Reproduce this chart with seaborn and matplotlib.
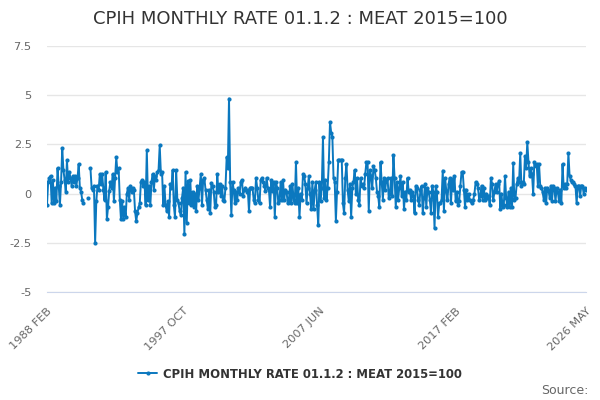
import numpy as np
import pandas as pd
import matplotlib
matplotlib.use("Agg")
import matplotlib.pyplot as plt
from matplotlib.ticker import FuncFormatter
from matplotlib.lines import Line2D
import seaborn as sns

# monthly rate, %, Feb 1988 .. May 2026
nan = np.nan
y1988 = [-0.6, 0.6, 0.8, 0.9, -0.5, 0.7, -0.5, 0.3, -0.4, 1.3, 0.4]
y1989 = [-0.6, 0.6, 2.3, 1.2, 0.7, 0.1, 1.7, 0.6, 1.1, 0.8, 0.4, 0.9]
y1990 = [0.6, 0.9, 0.4, 0.8, 1.5, 0.3, 0.1, -0.3, -0.5, nan, nan, nan]
y1991 = [-0.2, nan, 1.3, 0.3, 0.2, 0.4, -2.5, -0.4, 0.4, 0.2, 1.0, 0.5]
y1992 = [1.0, 0.2, -0.35, 1.1, -1.3, -0.7, 0.15, 0.6, 0.3, 1.0, -0.4, 0.8]
y1993 = [1.85, 1.1, 1.3, -0.3, -1.3, -0.4, -1.3, -0.7, -1.2, 0.0, 0.3, -0.3]
y1994 = [0.4, 0.1, 0.3, 0.2, -0.9, -1.4, -1.0, -0.7, -0.5, 0.6, 0.7, 0.4]
y1995 = [0.6, -0.6, 2.2, -0.3, 0.4, -0.6, 0.6, 1.0, 0.2, 0.9, 0.7, 1.1]
y1996 = [1.2, 2.45, 1.0, 1.1, -0.6, 0.4, -0.6, -0.9, -0.4, -1.2, 0.5, 0.3]
y1997 = [1.2, -0.6, -1.2, 1.2, -0.3, -0.5, -0.9, -1.1, -0.2, 0.3, -2.05, 1.1]
y1998 = [-1.5, 0.65, -0.5, 0.7, -0.6, 0.1, -0.7, 0.0, -0.9, 0.4, -0.35, 0.3]
y1999 = [1.0, -0.6, 0.7, 0.8, 0.2, -0.3, -0.8, 0.2, -1.0, 0.55, 0.4, 0.1]
y2000 = [-0.7, -0.6, 1.0, 0.1, 0.5, -0.1, 0.4, -0.3, -0.4, 0.3, 1.85, 1.3]
y2001 = [4.83, 0.6, -1.1, 0.6, 0.2, -0.5, 0.1, -0.3, 0.3, 0.0, 0.6, 0.7]
y2002 = [-0.1, 0.2, 0.3, 0.1, 0.2, -0.9, 0.3, 0.3, 0.3, -0.3, -0.5, 0.8]
y2003 = [0.3, -0.35, -0.5, 0.7, 0.8, 0.6, 0.4, 0.15, 0.8, 0.3, 0.2, -0.7]
y2004 = [0.7, 0.15, 0.6, -1.2, 0.6, 0.3, -0.5, -0.3, 0.6, -0.35, 0.7, -0.3]
y2005 = [0.2, 0.1, -0.5, -0.3, 0.4, -0.5, 0.5, -0.3, -0.5, 1.6, -0.5, 0.3]
y2006 = [-1.2, 0.0, -0.35, 1.0, 0.9, 0.5, -0.5, 0.3, 0.9, 0.0, -0.8, 0.6]
y2007 = [-0.8, 0.2, 0.6, -0.6, -1.6, 0.6, -0.4, 0.3, 2.86, -0.2, 0.7, -0.3]
y2008 = [0.3, 1.6, 3.64, 3.1, 2.9, 0.8, 0.6, -1.4, 0.1, 1.7, 1.7, 1.7]
y2009 = [1.7, -0.5, -1.0, 0.8, 1.5, 0.2, -0.4, 0.5, -1.2, 0.3, 0.6, 1.2]
y2010 = [0.0, 0.8, -0.3, -0.6, 0.8, 0.4, 0.5, 0.3, 1.0, 1.6, 1.6, -0.9]
y2011 = [1.2, 0.9, 0.3, 1.4, 1.2, 0.8, 0.1, -0.1, -0.7, 1.6, 0.6, -0.3]
y2012 = [0.8, 0.2, 0.7, 0.8, -0.2, 0.0, 0.8, -0.1, 1.94, 0.8, -0.7, 0.6]
y2013 = [-0.3, 0.3, 0.9, -0.1, 0.6, -0.8, 0.1, -0.3, 0.8, 0.1, 0.2, -0.3]
y2014 = [0.1, -0.1, -1.0, 0.4, 0.3, -0.3, -0.6, 0.2, 0.4, -1.0, -0.2, 0.5]
y2015 = [-0.7, 0.3, 0.1, -0.3, -1.0, 0.4, 0.1, -1.77, 0.4, 0.1, -1.2, -0.5]
y2016 = [-0.5, -0.3, 1.17, -0.9, 0.8, 0.15, -0.3, 0.5, 0.8, -0.5, 0.75, 0.2]
y2017 = [0.9, -0.4, 0.1, -0.6, -0.4, 0.4, 1.1, 1.1, 0.2, -0.7, 0.2, -0.3]
y2018 = [0.0, -0.3, -0.4, -0.5, -0.3, 0.0, 0.6, 0.5, 0.3, -0.3, -0.1, 0.4]
y2019 = [-0.3, 0.3, -0.3, 0.0, -0.2, -0.1, -0.6, 0.8, 0.5, -0.35, 0.1, 0.5]
y2020 = [0.1, 0.5, 0.66, -0.8, 0.0, -0.7, -0.6, 0.9, -0.2, -0.7, 0.1, -0.7]
y2021 = [0.3, -0.7, 1.55, -0.3, -0.2, 0.5, 0.8, 0.6, 2.06, 0.4, 0.6, 0.5]
y2022 = [1.9, 1.3, 2.62, 1.6, 0.9, 1.3, 1.0, 0.0, 1.6, 1.4, 1.5, 0.4]
y2023 = [1.5, 0.4, 0.3, 0.1, -0.3, 0.3, -0.5, 0.3, 0.2, -0.2, 0.4, -0.4]
y2024 = [0.4, 0.3, -0.4, 0.3, 0.1, -0.4, 0.2, -0.5, 1.5, 0.3, 0.5, 0.3]
y2025 = [0.5, 2.06, 0.9, 0.7, 0.6, 0.6, 0.5, 0.4, -0.5, 0.4, 0.4, -0.1]
y2026 = [0.4, 0.4, 0.0, 0.3, 0.2]

values = (y1988 + y1989 + y1990 + y1991 + y1992 + y1993 + y1994 + y1995
          + y1996 + y1997 + y1998 + y1999 + y2000 + y2001 + y2002 + y2003
          + y2004 + y2005 + y2006 + y2007 + y2008 + y2009 + y2010 + y2011
          + y2012 + y2013 + y2014 + y2015 + y2016 + y2017 + y2018 + y2019
          + y2020 + y2021 + y2022 + y2023 + y2024 + y2025 + y2026)

dates = pd.date_range("1988-02-01", periods=len(values), freq="MS")
labels = [d.strftime("%Y %b").upper() for d in dates]
series_name = "CPIH MONTHLY RATE 01.1.2 : MEAT 2015=100"
y_ticks = [-5, -2.5, 0, 2.5, 5, 7.5]

df = pd.DataFrame({"i": np.arange(len(values)), "rate": values})
# separate runs so missing months break the line
df["seg"] = df["rate"].isna().cumsum()

blue = "#0b78bf"
grey_txt = "#666666"

sns.set_style("white")
plt.rcParams["font.family"] = ["DejaVu Sans"]

fig = plt.figure(figsize=(6, 4), dpi=100)
ax = fig.add_axes([0.0783, 0.27, 0.8984, 0.615])

sns.lineplot(data=df.dropna(), x="i", y="rate", units="seg", ax=ax,
             color=blue, linewidth=1.4, marker="o", markersize=3.0,
             markeredgewidth=0, estimator=None, sort=False, legend=False)

ax.set_xlim(0, len(values) - 1)
ax.set_ylim(-5, 7.5)
ax.set_yticks(y_ticks)
ax.yaxis.set_major_formatter(FuncFormatter(lambda v, p: f"{v:g}"))
ax.yaxis.grid(True, color="#e6e6e6", linewidth=1)
ax.set_axisbelow(True)

# x ticks every 29 months, labels every 4th tick plus the last month
step = 29
tick_pos = list(range(0, len(values), step))
if tick_pos[-1] != len(values) - 1:
    tick_pos.append(len(values) - 1)
ax.set_xticks(tick_pos)
tick_lbl = []
for k, t in enumerate(tick_pos):
    if t == len(values) - 1 or (k % 4 == 0 and len(values) - 1 - t > step):
        tick_lbl.append(labels[t])
    else:
        tick_lbl.append("")
ax.set_xticklabels(tick_lbl, rotation=45, ha="right", rotation_mode="anchor")

ax.tick_params(axis="x", length=7, width=1, color="#ccd6eb", labelsize=8.2,
               labelcolor=grey_txt, pad=3)
ax.tick_params(axis="y", length=0, labelsize=8.2, labelcolor=grey_txt, pad=11)
for s in ["top", "right", "left"]:
    ax.spines[s].set_visible(False)
ax.spines["bottom"].set_color("#ccd6eb")
ax.set_xlabel("")
ax.set_ylabel("")

fig.suptitle(series_name, x=0.5, y=0.975, fontsize=13, color="#333333")

handle = Line2D([], [], color=blue, linewidth=1.4, marker="o", markersize=3.0,
                markeredgewidth=0)
leg = fig.legend([handle], [series_name], loc="center",
                 bbox_to_anchor=(0.5, 0.065), frameon=False, fontsize=8.4,
                 handlelength=1.6, handletextpad=0.5)
for t in leg.get_texts():
    t.set_fontweight("bold")
    t.set_color("#333333")

fig.text(0.98, 0.025, "Source:", ha="right", va="center", fontsize=9,
         color=grey_txt)

fig.savefig("out.png", dpi=100)
